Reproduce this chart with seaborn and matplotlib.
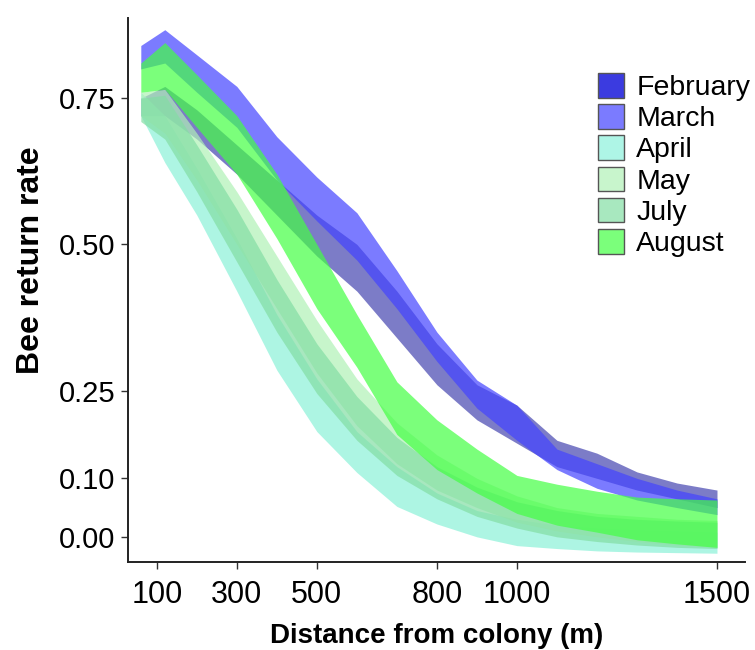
import numpy as np
import pandas as pd
import matplotlib
matplotlib.use("Agg")
import matplotlib.pyplot as plt
from matplotlib.patches import Patch
import seaborn as sns

# ---- data ----
distance = [60, 120, 200, 300, 400, 500, 600, 700, 800, 900, 1000, 1100, 1200, 1300, 1400, 1500]
months = ["February", "March", "April", "May", "July", "August"]

feb_upper = [0.75, 0.77, 0.73, 0.67, 0.61, 0.55, 0.50, 0.42, 0.33, 0.26, 0.225, 0.165, 0.143, 0.111, 0.092, 0.080]
feb_lower = [0.72, 0.72, 0.68, 0.62, 0.55, 0.48, 0.42, 0.34, 0.26, 0.20, 0.160, 0.120, 0.100, 0.080, 0.065, 0.050]
mar_upper = [0.84, 0.867, 0.824, 0.77, 0.684, 0.615, 0.554, 0.455, 0.35, 0.268, 0.225, 0.150, 0.125, 0.100, 0.080, 0.065]
mar_lower = [0.80, 0.81, 0.76, 0.70, 0.61, 0.54, 0.473, 0.39, 0.30, 0.22, 0.165, 0.115, 0.083, 0.063, 0.050, 0.038]
apr_upper = [0.76, 0.72, 0.63, 0.51, 0.38, 0.27, 0.18, 0.12, 0.075, 0.045, 0.030, 0.020, 0.015, 0.012, 0.010, 0.008]
apr_lower = [0.72, 0.64, 0.55, 0.42, 0.285, 0.18, 0.11, 0.052, 0.022, 0.0, -0.015, -0.020, -0.024, -0.026, -0.027, -0.028]
may_upper = [0.76, 0.765, 0.69, 0.59, 0.48, 0.37, 0.27, 0.195, 0.14, 0.10, 0.070, 0.050, 0.040, 0.035, 0.030, 0.028]
may_lower = [0.72, 0.69, 0.61, 0.50, 0.39, 0.28, 0.19, 0.125, 0.08, 0.05, 0.025, 0.010, 0.0, -0.008, -0.014, -0.018]
jul_upper = [0.75, 0.755, 0.67, 0.56, 0.44, 0.33, 0.24, 0.17, 0.12, 0.085, 0.060, 0.045, 0.035, 0.030, 0.027, 0.025]
jul_lower = [0.71, 0.68, 0.59, 0.47, 0.35, 0.245, 0.165, 0.105, 0.065, 0.035, 0.015, 0.0, -0.008, -0.014, -0.018, -0.020]
aug_upper = [0.81, 0.845, 0.79, 0.72, 0.62, 0.50, 0.38, 0.265, 0.20, 0.15, 0.105, 0.090, 0.078, 0.068, 0.065, 0.063]
aug_lower = [0.76, 0.765, 0.70, 0.62, 0.51, 0.39, 0.29, 0.175, 0.115, 0.075, 0.040, 0.020, 0.008, -0.005, -0.012, -0.018]

x_ticks = [100, 300, 500, 800, 1000, 1500]
y_ticks = [0.00, 0.10, 0.25, 0.50, 0.75]
y_ticklabels = ["0.00", "0.10", "0.25", "0.50", "0.75"]

bounds = {
    "February": (feb_lower, feb_upper),
    "March": (mar_lower, mar_upper),
    "April": (apr_lower, apr_upper),
    "May": (may_lower, may_upper),
    "July": (jul_lower, jul_upper),
    "August": (aug_lower, aug_upper),
}

rows = []
for m in months:
    lo, hi = bounds[m]
    for d, a, b in zip(distance, lo, hi):
        rows.append({"month": m, "distance": d, "rate": a})
        rows.append({"month": m, "distance": d, "rate": b})
df = pd.DataFrame(rows)

# ---- style ----
sns.set_theme(style="ticks")
plt.rcParams["font.family"] = ["Liberation Sans", "DejaVu Sans"]
plt.rcParams["text.color"] = "black"
plt.rcParams["axes.labelcolor"] = "black"

band_colors = {
    "February": "#4545b0",
    "March": "#4343ff",
    "April": "#8bf1d8",
    "May": "#b0f1b6",
    "July": "#83dea4",
    "August": "#43ff43",
}
legend_colors = {
    "February": "#3b3be0",
    "March": "#7b7bff",
    "April": "#aef5e6",
    "May": "#c8f5cc",
    "July": "#a8e8bf",
    "August": "#7bff7b",
}

fig = plt.figure(figsize=(7.55, 6.5), dpi=100)
ax = fig.add_axes([128 / 755, 1 - 562 / 650, (745 - 128) / 755, (562 - 18) / 650])

sns.lineplot(
    data=df, x="distance", y="rate", hue="month", hue_order=months,
    palette=band_colors, estimator="mean", errorbar=("pi", 100),
    linewidth=0, legend=False, ax=ax,
    err_kws={"alpha": 0.7, "linewidth": 0},
)

ax.set_xlim(28, 1570)
ax.set_ylim(-0.043, 0.887)
ax.set_xticks(x_ticks)
ax.set_xticklabels([str(t) for t in x_ticks], fontsize=22)
ax.set_yticks(y_ticks)
ax.set_yticklabels(y_ticklabels, fontsize=21)
ax.tick_params(axis="both", length=5, width=1, color="#333333", labelcolor="black")
ax.tick_params(axis="x", pad=8)
ax.tick_params(axis="y", pad=4)
ax.set_xlabel("Distance from colony (m)", fontsize=20, fontweight="bold", labelpad=9, color="black")
ax.set_ylabel("Bee return rate", fontsize=23, fontweight="bold", color="black")
ax.yaxis.set_label_coords((46 - 128) / 617, 0.555)
sns.despine(ax=ax)
for s in ["left", "bottom"]:
    ax.spines[s].set_linewidth(1.4)
    ax.spines[s].set_color("#222222")

handles = [Patch(facecolor=legend_colors[m], edgecolor="#555555", linewidth=1.0, label=m) for m in months]
leg = fig.legend(handles=handles, loc="upper left", bbox_to_anchor=(598 / 755, 1 - 73 / 650),
                 frameon=False, fontsize=20.5, handlelength=0.92, handleheight=0.95,
                 handletextpad=0.42, labelspacing=0.11, borderaxespad=0, borderpad=0)
for t in leg.get_texts():
    t.set_color("black")

fig.savefig("out.png", dpi=100)
